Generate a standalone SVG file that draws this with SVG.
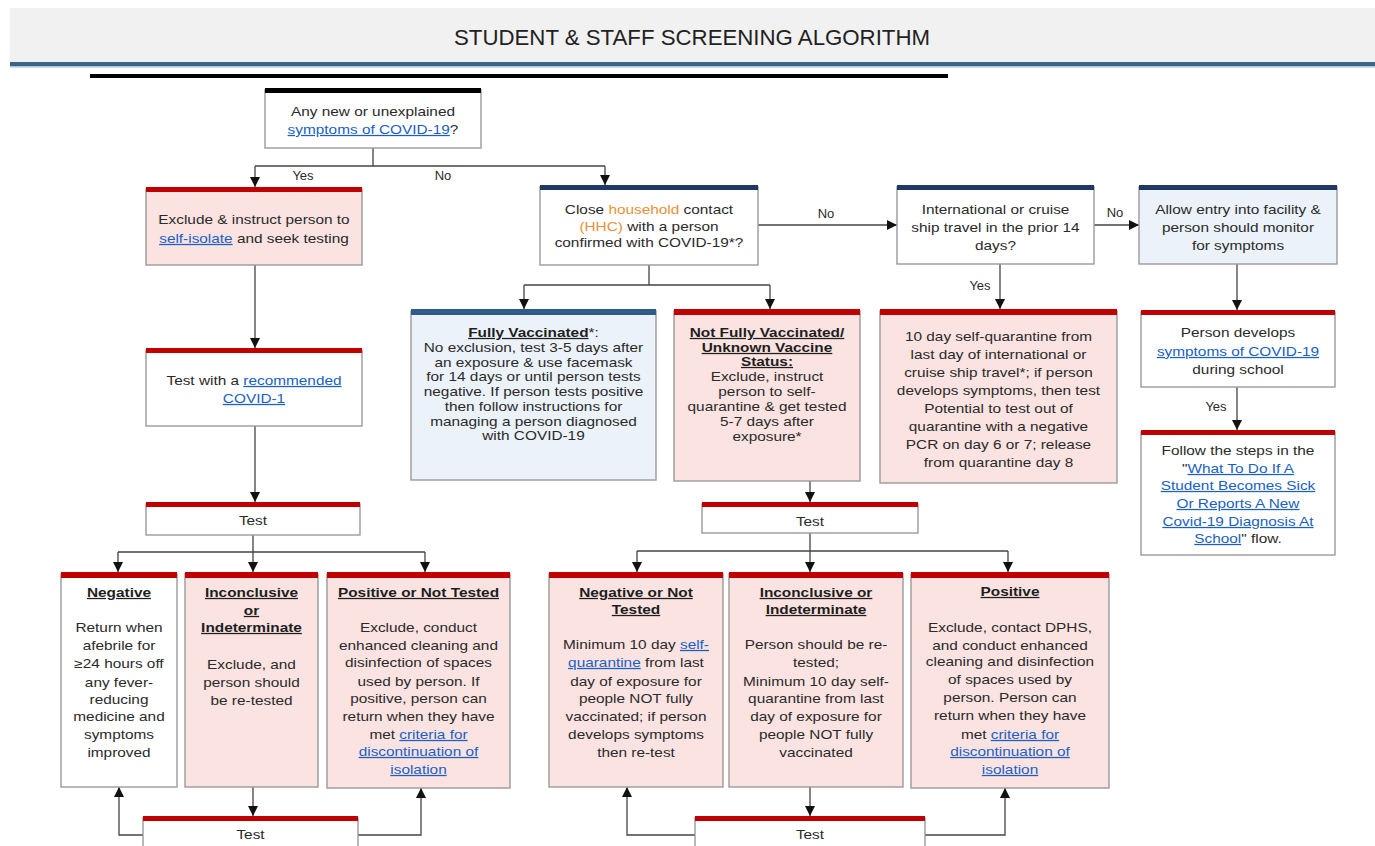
<svg xmlns="http://www.w3.org/2000/svg" width="1375" height="846" viewBox="0 0 1375 846">
<defs>
<marker id="ah" markerUnits="userSpaceOnUse" markerWidth="10" markerHeight="10" viewBox="0 0 10 10" refX="10" refY="5" orient="auto">
<path d="M0,0 L10,5 L0,10 z" fill="#111"/>
</marker>
<style>
.t{font-family:"Liberation Sans",Arial,sans-serif;font-size:12.6px;fill:#2a2a2a;text-anchor:middle}
.lbl{font-family:"Liberation Sans",Arial,sans-serif;font-size:13px;fill:#2a2a2a;text-anchor:middle}
.h{font-weight:bold;text-decoration:underline;fill:#1e1e1e}
.link{fill:#1a5fc4;text-decoration:underline}
.or{fill:#e69138}
.box{stroke:#9a9a9a;stroke-width:1.4}
.w{fill:#ffffff}
.p{fill:#fbe3e1}
.b{fill:#ecf2f9}
.red{fill:#c00000}
.navy{fill:#1f3864}
.steel{fill:#2f5b86}
.blk{fill:#000}
.c{fill:none;stroke:#444;stroke-width:1.3}
.ca{fill:none;stroke:#444;stroke-width:1.3;marker-end:url(#ah)}
</style>
</defs>
<rect width="1375" height="846" fill="#ffffff"/>
<g id="header">
<rect x="10" y="8" width="1365" height="55" fill="#f1f1f1"/>
<rect x="10" y="62" width="1365" height="4" fill="#3c6487"/>
<rect x="10" y="66" width="1365" height="1.5" fill="#a9c4dc"/>
<text x="692" y="45" font-family="'Liberation Sans',Arial,sans-serif" font-size="22" fill="#222" text-anchor="middle" textLength="476" lengthAdjust="spacingAndGlyphs">STUDENT &amp; STAFF SCREENING ALGORITHM</text>
<rect x="90" y="74" width="858" height="4" fill="#000"/>
</g>

<g id="connectors">
<path class="c" d="M373,148 V166 M255,166 H605"/>
<path class="ca" d="M255,166 V187"/>
<path class="ca" d="M605,166 V185"/>
<path class="ca" d="M255,265 V348"/>
<path class="ca" d="M255,426 V502"/>
<path class="c" d="M253,535 V552 M118,552 H425"/>
<path class="ca" d="M118,552 V572"/>
<path class="ca" d="M253,552 V572"/>
<path class="ca" d="M425,552 V572"/>
<path class="ca" d="M253,787 V816"/>
<path class="ca" d="M143,835 H119 V787"/>
<path class="ca" d="M358,835 H421 V788"/>
<path class="c" d="M649,265 V285 M524,285 H770"/>
<path class="ca" d="M524,285 V309"/>
<path class="ca" d="M770,285 V309"/>
<path class="ca" d="M758,225 H897"/>
<path class="ca" d="M1094,225 H1139"/>
<path class="ca" d="M1000,264 V309"/>
<path class="ca" d="M1237,264 V310"/>
<path class="ca" d="M1237,387 V430"/>
<path class="ca" d="M810,481 V502"/>
<path class="c" d="M810,533 V551 M637,551 H1008"/>
<path class="ca" d="M637,551 V572"/>
<path class="ca" d="M810,551 V572"/>
<path class="ca" d="M1008,551 V572"/>
<path class="ca" d="M810,787 V816"/>
<path class="ca" d="M695,835 H627 V787"/>
<path class="ca" d="M925,835 H1005 V788"/>
<text class="lbl" x="303" y="180">Yes</text>
<text class="lbl" x="443" y="180">No</text>
<text class="lbl" x="826" y="218">No</text>
<text class="lbl" x="1115" y="217">No</text>
<text class="lbl" x="980" y="290">Yes</text>
<text class="lbl" x="1216" y="411">Yes</text>
</g>

<g id="n1">
<rect class="box w" x="265" y="90" width="216" height="58"/>
<rect class="blk" x="265" y="88" width="216" height="5"/>
<g transform="matrix(1.22 0 0 1 -82.06 0)">
<text class="t" x="373" y="116">Any new or unexplained</text>
<text class="t" x="373" y="134"><tspan class="link">symptoms of COVID-19</tspan>?</text>
</g>
</g>

<g id="n2">
<rect class="box p" x="146" y="189" width="216" height="76"/>
<rect class="red" x="146" y="187" width="216" height="5"/>
<g transform="matrix(1.22 0 0 1 -55.88 0)">
<text class="t" x="254" y="224">Exclude &amp; instruct person to</text>
<text class="t" x="254" y="243"><tspan class="link">self-isolate</tspan> and seek testing</text>
</g>
</g>

<g id="n3">
<rect class="box w" x="540" y="187" width="218" height="78"/>
<rect class="navy" x="540" y="185" width="218" height="5"/>
<g transform="matrix(1.22 0 0 1 -142.78 0)">
<text class="t" x="649" y="214">Close <tspan class="or">household</tspan> contact</text>
<text class="t" x="649" y="231"><tspan class="or">(HHC)</tspan> with a person</text>
<text class="t" x="649" y="247">confirmed with COVID-19*?</text>
</g>
</g>

<g id="n4">
<rect class="box w" x="897" y="187" width="197" height="77"/>
<rect class="navy" x="897" y="185" width="197" height="5"/>
<g transform="matrix(1.22 0 0 1 -219.01 0)">
<text class="t" x="995.5" y="214">International or cruise</text>
<text class="t" x="995.5" y="232">ship travel in the prior 14</text>
<text class="t" x="995.5" y="250">days?</text>
</g>
</g>

<g id="n5">
<rect class="box b" x="1139" y="187" width="198" height="77"/>
<rect class="navy" x="1139" y="185" width="198" height="5"/>
<g transform="matrix(1.22 0 0 1 -272.36 0)">
<text class="t" x="1238" y="214">Allow entry into facility &amp;</text>
<text class="t" x="1238" y="232">person should monitor</text>
<text class="t" x="1238" y="250">for symptoms</text>
</g>
</g>

<g id="n_recommended">
<rect class="box w" x="146" y="350" width="216" height="76"/>
<rect class="red" x="146" y="348" width="216" height="5"/>
<g transform="matrix(1.22 0 0 1 -55.88 0)">
<text class="t" x="254" y="385">Test with a <tspan class="link">recommended</tspan></text>
<text class="t" x="254" y="403"><tspan class="link">COVID-1</tspan></text>
</g>
</g>

<g id="n_fully">
<rect class="box b" x="411" y="311" width="245" height="169"/>
<rect class="steel" x="411" y="309" width="245" height="6"/>
<g transform="matrix(1.22 0 0 1 -117.37 0)">
<text class="t" x="533.5" y="337"><tspan class="h">Fully Vaccinated</tspan>*:</text>
<text class="t" x="533.5" y="352">No exclusion, test 3-5 days after</text>
<text class="t" x="533.5" y="367">an exposure &amp; use facemask</text>
<text class="t" x="533.5" y="381">for 14 days or until person tests</text>
<text class="t" x="533.5" y="396">negative. If person tests positive</text>
<text class="t" x="533.5" y="411">then follow instructions for</text>
<text class="t" x="533.5" y="426">managing a person diagnosed</text>
<text class="t" x="533.5" y="440">with COVID-19</text>
</g>
</g>

<g id="n_notfully">
<rect class="box p" x="674" y="311" width="186" height="170"/>
<rect class="red" x="674" y="309" width="186" height="6"/>
<g transform="matrix(1.22 0 0 1 -168.74 0)">
<text class="t h" x="767" y="337">Not Fully Vaccinated/</text>
<text class="t h" x="767" y="352">Unknown Vaccine</text>
<text class="t h" x="767" y="366">Status:</text>
<text class="t" x="767" y="381">Exclude, instruct</text>
<text class="t" x="767" y="396">person to self-</text>
<text class="t" x="767" y="411">quarantine &amp; get tested</text>
<text class="t" x="767" y="426">5-7 days after</text>
<text class="t" x="767" y="441">exposure*</text>
</g>
</g>

<g id="n_travel">
<rect class="box p" x="880" y="311" width="237" height="172"/>
<rect class="red" x="880" y="309" width="237" height="6"/>
<g transform="matrix(1.22 0 0 1 -219.67 0)">
<text class="t" x="998.5" y="341">10 day self-quarantine from</text>
<text class="t" x="998.5" y="359">last day of international or</text>
<text class="t" x="998.5" y="377">cruise ship travel*; if person</text>
<text class="t" x="998.5" y="395">develops symptoms, then test</text>
<text class="t" x="998.5" y="413">Potential to test out of</text>
<text class="t" x="998.5" y="431">quarantine with a negative</text>
<text class="t" x="998.5" y="449">PCR on day 6 or 7; release</text>
<text class="t" x="998.5" y="467">from quarantine day 8</text>
</g>
</g>

<g id="n_develops">
<rect class="box w" x="1141" y="312" width="194" height="75"/>
<rect class="red" x="1141" y="310" width="194" height="5"/>
<g transform="matrix(1.22 0 0 1 -272.36 0)">
<text class="t" x="1238" y="337">Person develops</text>
<text class="t" x="1238" y="356"><tspan class="link">symptoms of COVID-19</tspan></text>
<text class="t" x="1238" y="374">during school</text>
</g>
</g>

<g id="n_follow">
<rect class="box w" x="1141" y="432" width="194" height="123"/>
<rect class="red" x="1141" y="430" width="194" height="5"/>
<g transform="matrix(1.22 0 0 1 -272.36 0)">
<text class="t" x="1238" y="455">Follow the steps in the</text>
<text class="t" x="1238" y="473">"<tspan class="link">What To Do If A</tspan></text>
<text class="t" x="1238" y="490"><tspan class="link">Student Becomes Sick</tspan></text>
<text class="t" x="1238" y="508"><tspan class="link">Or Reports A New</tspan></text>
<text class="t" x="1238" y="526"><tspan class="link">Covid-19 Diagnosis At</tspan></text>
<text class="t" x="1238" y="543"><tspan class="link">School</tspan>" flow.</text>
</g>
</g>

<g id="n_test_left">
<rect class="box w" x="146" y="504" width="214" height="31"/>
<rect class="red" x="146" y="502" width="214" height="5"/>
<g transform="matrix(1.22 0 0 1 -55.66 0)">
<text class="t" x="253" y="525">Test</text>
</g>
</g>

<g id="n_negative">
<rect class="box w" x="61" y="574" width="116" height="213"/>
<rect class="red" x="61" y="572" width="116" height="6"/>
<g transform="matrix(1.22 0 0 1 -26.18 0)">
<text class="t h" x="119" y="597">Negative</text>
<text class="t" x="119" y="632">Return when</text>
<text class="t" x="119" y="650">afebrile for</text>
<text class="t" x="119" y="668">≥24 hours off</text>
<text class="t" x="119" y="687">any fever-</text>
<text class="t" x="119" y="704">reducing</text>
<text class="t" x="119" y="721">medicine and</text>
<text class="t" x="119" y="739">symptoms</text>
<text class="t" x="119" y="757">improved</text>
</g>
</g>

<g id="n_inconclusive_left">
<rect class="box p" x="185" y="574" width="133" height="213"/>
<rect class="red" x="185" y="572" width="133" height="6"/>
<g transform="matrix(1.22 0 0 1 -55.33 0)">
<text class="t h" x="251.5" y="597">Inconclusive</text>
<text class="t h" x="251.5" y="615">or</text>
<text class="t h" x="251.5" y="632">Indeterminate</text>
<text class="t" x="251.5" y="669">Exclude, and</text>
<text class="t" x="251.5" y="687">person should</text>
<text class="t" x="251.5" y="705">be re-tested</text>
</g>
</g>

<g id="n_positive_left">
<rect class="box p" x="327" y="574" width="183" height="214"/>
<rect class="red" x="327" y="572" width="183" height="6"/>
<g transform="matrix(1.22 0 0 1 -92.07 0)">
<text class="t h" x="418.5" y="597">Positive or Not Tested</text>
<text class="t" x="418.5" y="632">Exclude, conduct</text>
<text class="t" x="418.5" y="650">enhanced cleaning and</text>
<text class="t" x="418.5" y="667">disinfection of spaces</text>
<text class="t" x="418.5" y="686">used by person. If</text>
<text class="t" x="418.5" y="703">positive, person can</text>
<text class="t" x="418.5" y="721">return when they have</text>
<text class="t" x="418.5" y="739">met <tspan class="link">criteria for</tspan></text>
<text class="t" x="418.5" y="756"><tspan class="link">discontinuation of</tspan></text>
<text class="t" x="418.5" y="774"><tspan class="link">isolation</tspan></text>
</g>
</g>

<g id="n_test_left_bottom">
<rect class="box w" x="143" y="818" width="215" height="40"/>
<rect class="red" x="143" y="816" width="215" height="5"/>
<g transform="matrix(1.22 0 0 1 -55.11 0)">
<text class="t" x="250.5" y="839">Test</text>
</g>
</g>

<g id="n_test_mid">
<rect class="box w" x="702" y="504" width="216" height="29"/>
<rect class="red" x="702" y="502" width="216" height="5"/>
<g transform="matrix(1.22 0 0 1 -178.2 0)">
<text class="t" x="810" y="526">Test</text>
</g>
</g>

<g id="n_negative_mid">
<rect class="box p" x="549" y="574" width="174" height="213"/>
<rect class="red" x="549" y="572" width="174" height="6"/>
<g transform="matrix(1.22 0 0 1 -139.92 0)">
<text class="t h" x="636" y="597">Negative or Not</text>
<text class="t h" x="636" y="614">Tested</text>
<text class="t" x="636" y="649">Minimum 10 day <tspan class="link">self-</tspan></text>
<text class="t" x="636" y="667"><tspan class="link">quarantine</tspan> from last</text>
<text class="t" x="636" y="686">day of exposure for</text>
<text class="t" x="636" y="703">people NOT fully</text>
<text class="t" x="636" y="721">vaccinated; if person</text>
<text class="t" x="636" y="739">develops symptoms</text>
<text class="t" x="636" y="757">then re-test</text>
</g>
</g>

<g id="n_inconclusive_mid">
<rect class="box p" x="729" y="574" width="174" height="213"/>
<rect class="red" x="729" y="572" width="174" height="6"/>
<g transform="matrix(1.22 0 0 1 -179.52 0)">
<text class="t h" x="816" y="597">Inconclusive or</text>
<text class="t h" x="816" y="614">Indeterminate</text>
<text class="t" x="816" y="649">Person should be re-</text>
<text class="t" x="816" y="667">tested;</text>
<text class="t" x="816" y="686">Minimum 10 day self-</text>
<text class="t" x="816" y="703">quarantine from last</text>
<text class="t" x="816" y="721">day of exposure for</text>
<text class="t" x="816" y="739">people NOT fully</text>
<text class="t" x="816" y="757">vaccinated</text>
</g>
</g>

<g id="n_positive_mid">
<rect class="box p" x="911" y="574" width="198" height="214"/>
<rect class="red" x="911" y="572" width="198" height="6"/>
<g transform="matrix(1.22 0 0 1 -222.2 0)">
<text class="t h" x="1010" y="596">Positive</text>
<text class="t" x="1010" y="632">Exclude, contact DPHS,</text>
<text class="t" x="1010" y="650">and conduct enhanced</text>
<text class="t" x="1010" y="666">cleaning and disinfection</text>
<text class="t" x="1010" y="684">of spaces used by</text>
<text class="t" x="1010" y="702">person. Person can</text>
<text class="t" x="1010" y="720">return when they have</text>
<text class="t" x="1010" y="739">met <tspan class="link">criteria for</tspan></text>
<text class="t" x="1010" y="756"><tspan class="link">discontinuation of</tspan></text>
<text class="t" x="1010" y="774"><tspan class="link">isolation</tspan></text>
</g>
</g>

<g id="n_test_mid_bottom">
<rect class="box w" x="695" y="818" width="230" height="40"/>
<rect class="red" x="695" y="816" width="230" height="5"/>
<g transform="matrix(1.22 0 0 1 -178.2 0)">
<text class="t" x="810" y="839">Test</text>
</g>
</g>
</svg>
